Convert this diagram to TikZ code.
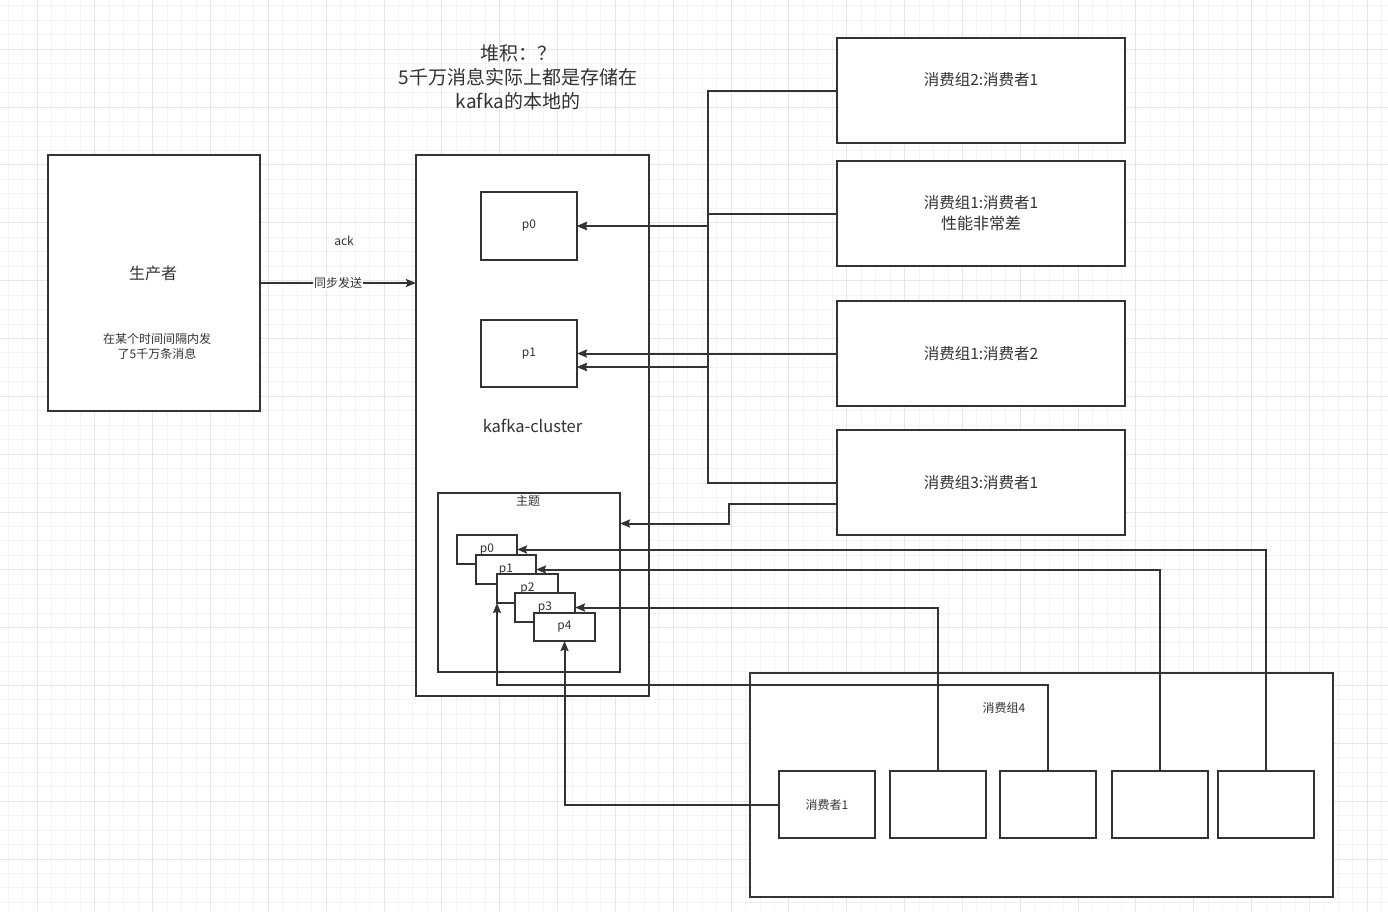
\documentclass[tikz,border=0pt]{standalone}
\usepackage{fontspec}
\setmainfont{Noto Sans CJK SC}
\usetikzlibrary{arrows.meta,calc}
\definecolor{ink}{HTML}{333333}
\definecolor{gminor}{HTML}{F3F3F3}
\definecolor{gmajor}{HTML}{E6E6E6}
\tikzset{
  box/.style={draw=ink, line width=2pt, fill=white, inner sep=0pt, outer sep=0pt, text=ink, align=center},
  conn/.style={draw=ink, line width=2pt},
  arr/.style={conn, -{Stealth[length=10pt,width=8pt,inset=1.5pt]}},
  txt/.style={text=ink, inner sep=0pt, align=center},
  f12/.style={font=\fontsize{12}{15}\selectfont},
  f15/.style={font=\fontsize{15.5}{21}\selectfont},
  f16/.style={font=\fontsize{16}{20}\selectfont},
  fk/.style={font=\fontsize{16.5}{20}\selectfont},
  f19/.style={font=\fontsize{19}{24}\selectfont},
}
\begin{document}
\begin{tikzpicture}[x=1pt,y=-1pt]
\useasboundingbox (0,0) rectangle (1388,911);
\fill[white] (0,0) rectangle (1388,911);
% grid
\foreach \i in {0,...,95} {\pgfmathsetmacro\xx{8.1+14.46*\i}\draw[gminor,line width=1pt] (\xx,0) -- (\xx,911);}
\foreach \j in {0,...,63} {\pgfmathsetmacro\yy{5.9+14.46*\j}\draw[gminor,line width=1pt] (0,\yy) -- (1388,\yy);}
\foreach \i in {0,...,23} {\pgfmathsetmacro\xx{37+57.84*\i}\draw[gmajor,line width=1pt] (\xx,0) -- (\xx,911);}
\foreach \j in {0,...,15} {\pgfmathsetmacro\yy{49.3+57.84*\j}\draw[gmajor,line width=1pt] (0,\yy) -- (1388,\yy);}

% title
\node[txt,f19] (title) at (518,77) {堆积：？\\5千万消息实际上都是存储在\\kafka的本地的};

% producer
\node[box,minimum width=212pt,minimum height=256pt] (prod) at (154,283) {};
\node[txt,f16] (prodt) at (153,273) {生产者};
\node[txt,f12] (prods) at (157,346.5) {在某个时间间隔内发\\了5千万条消息};

% kafka cluster
\node[box,fk,minimum width=233pt,minimum height=541pt] (kafka) at (532.5,425.5) {kafka-cluster};
\node[box,f12,minimum width=96pt,minimum height=68pt] (p0) at (529,226) {p0};
\node[box,f12,minimum width=96pt,minimum height=67pt] (p1) at (529,353.5) {p1};
\node[box,minimum width=182pt,minimum height=179pt] (topic) at (529,582.5) {};
\node[txt,f12] (topict) at (528,501) {主题};
\node[box,f12,minimum width=60pt,minimum height=29pt] (sp0) at (487,549.5) {p0};
\node[box,f12,minimum width=60pt,minimum height=29pt] (sp1) at (506,569.5) {p1};
\node[box,f12,minimum width=61pt,minimum height=29pt] (sp2) at (527.5,588.5) {p2};
\node[box,f12,minimum width=60pt,minimum height=29pt] (sp3) at (545,607.5) {p3};
\node[box,f12,minimum width=61pt,minimum height=28pt] (sp4) at (564.5,627) {p4};

% right consumers
\node[box,minimum width=288pt,minimum height=105pt] (c1) at (981,90.5) {};
\node[txt,f15] (c1t) at (981,80) {消费组2:消费者1};
\node[box,f15,minimum width=288pt,minimum height=105pt] (c2) at (981,213.5) {消费组1:消费者1\\{\fontsize{16}{20}\selectfont 性能非常差}};
\node[box,f15,minimum width=288pt,minimum height=105pt] (c3) at (981,353.5) {消费组1:消费者2};
\node[box,f15,minimum width=288pt,minimum height=105pt] (c4) at (981,482.5) {消费组3:消费者1};

% consumer group 4
\node[box,minimum width=583pt,minimum height=224pt] (g4) at (1041.5,785) {};
\node[txt,f12] (g4t) at (1004,708) {消费组4};
\node[box,f12,minimum width=96pt,minimum height=67pt] (s1) at (827,804.5) {消费者1};
\node[box,minimum width=96pt,minimum height=67pt] (s2) at (938,804.5) {};
\node[box,minimum width=96pt,minimum height=67pt] (s3) at (1048,804.5) {};
\node[box,minimum width=96pt,minimum height=67pt] (s4) at (1160,804.5) {};
\node[box,minimum width=96pt,minimum height=67pt] (s5) at (1266,804.5) {};

% producer -> kafka
\draw[arr] (prod.east) -- (prod.east -| kafka.west)
  node[pos=0.5,fill=white,inner sep=1pt,text=ink,f12] (sync) {同步发送};
\node[txt,f12] (ack) at (344,241) {ack};

% bus to p0/p1
\coordinate (b0) at (708,226);
\coordinate (b1) at (708,367);
\draw[arr] (c1.west) -| (b0) -- (p0.east);
\draw[arr] (c1.west) -| (b1) -- (b1 -| p1.east);
\draw[arr] (c2.west) -| (b0) -- (p0.east);
\draw[arr] (c3.west) -- (c3.west -| p1.east);
\draw[arr] (c4.west) -| (b0) -- (p0.east);
\draw[arr] (c4.west) -| (b1) -- (b1 -| p1.east);

% group3 -> topic
\coordinate (k1) at (837,504);
\coordinate (k2) at (729,504);
\coordinate (k3) at (729,523.5);
\draw[arr] (k1) -- (k2) -- (k3) -- (k3 -| topic.east);

% group4 -> partitions
\draw[arr] (s1.west) -| (sp4.south);
\draw[arr] (s2.north) |- (sp3.east);
\coordinate (k4) at (1048,685);
\draw[arr] (s3.north) -- (k4) -| (sp2.south west);
\draw[arr] (s4.north) |- (sp1.east);
\draw[arr] (s5.north) |- (sp0.east);
\end{tikzpicture}
\end{document}
